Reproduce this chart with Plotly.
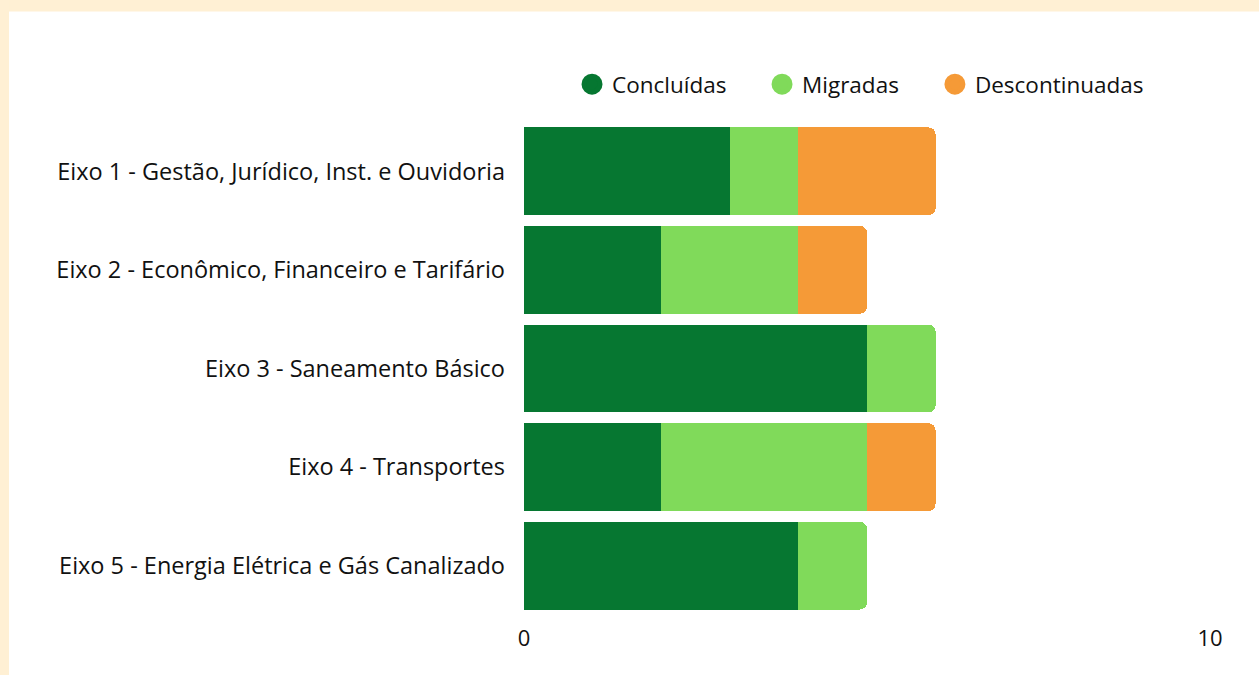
import plotly.graph_objects as go

categories = [
    "Eixo 1 - Gestão, Jurídico, Inst. e Ouvidoria",
    "Eixo 2 - Econômico, Financeiro e Tarifário",
    "Eixo 3 - Saneamento Básico",
    "Eixo 4 - Transportes",
    "Eixo 5 - Energia Elétrica e Gás Canalizado",
]
concluidas = [3, 2, 5, 2, 4]
migradas = [1, 2, 1, 3, 1]
descontinuadas = [2, 1, 0, 1, 0]

series_names = ["Concluídas", "Migradas", "Descontinuadas"]
series_values = [concluidas, migradas, descontinuadas]
colors = ["#067731", "#80DA5A", "#F59A37"]
legend_ids = ["legend", "legend2", "legend3"]

FONT = "Open Sans, sans-serif"

fig = go.Figure()
for name, vals, col in zip(series_names, series_values, colors):
    fig.add_trace(go.Bar(
        y=categories, x=vals, name=name, orientation="h",
        marker=dict(color=col, line=dict(width=0)),
        showlegend=False,
    ))
# legend entries with round markers
for name, col, lid in zip(series_names, colors, legend_ids):
    fig.add_trace(go.Scatter(
        x=[None], y=[None], mode="markers", name=name,
        marker=dict(symbol="circle", size=16, color=col, line=dict(color=col, width=5)),
        showlegend=True, legend=lid,
    ))

legend_common = dict(orientation="h", yanchor="middle", y=1.076, xanchor="left",
                     font=dict(family=FONT, size=22.5, color="#111111"),
                     bgcolor="rgba(0,0,0,0)", borderwidth=0)

fig.update_layout(
    width=1259, height=675,
    barmode="stack",
    bargap=0.11,
    barcornerradius=7,
    paper_bgcolor="white",
    plot_bgcolor="rgba(0,0,0,0)",
    margin=dict(l=524, r=49, t=122, b=60, autoexpand=False),
    font=dict(family=FONT, size=23, color="#111111"),
    xaxis=dict(range=[0, 10], tickvals=[0, 10], showgrid=False, zeroline=False,
               showline=False, ticks="", ticklabelstandoff=8,
               tickfont=dict(family=FONT, size=22, color="#111111")),
    yaxis=dict(autorange="reversed", showgrid=False, zeroline=False, showline=False,
               ticks="", ticklabelstandoff=18,
               tickfont=dict(family=FONT, size=23.5, color="#111111")),
    legend=dict(x=0.070, **legend_common),
    legend2=dict(x=0.347, **legend_common),
    legend3=dict(x=0.599, **legend_common),
    shapes=[
        dict(type="rect", xref="paper", yref="paper", x0=-0.8, x1=1.1, y0=1.224, y1=1.3,
             fillcolor="#FFF0D4", line=dict(width=0), layer="below"),
        dict(type="rect", xref="paper", yref="paper", x0=-0.8, x1=-0.7507, y0=-0.2, y1=1.3,
             fillcolor="#FFF0D4", line=dict(width=0), layer="below"),
    ],
)

fig.write_html("out.html", config={"displayModeBar": False},
               post_script="document.body.style.margin='0';")
